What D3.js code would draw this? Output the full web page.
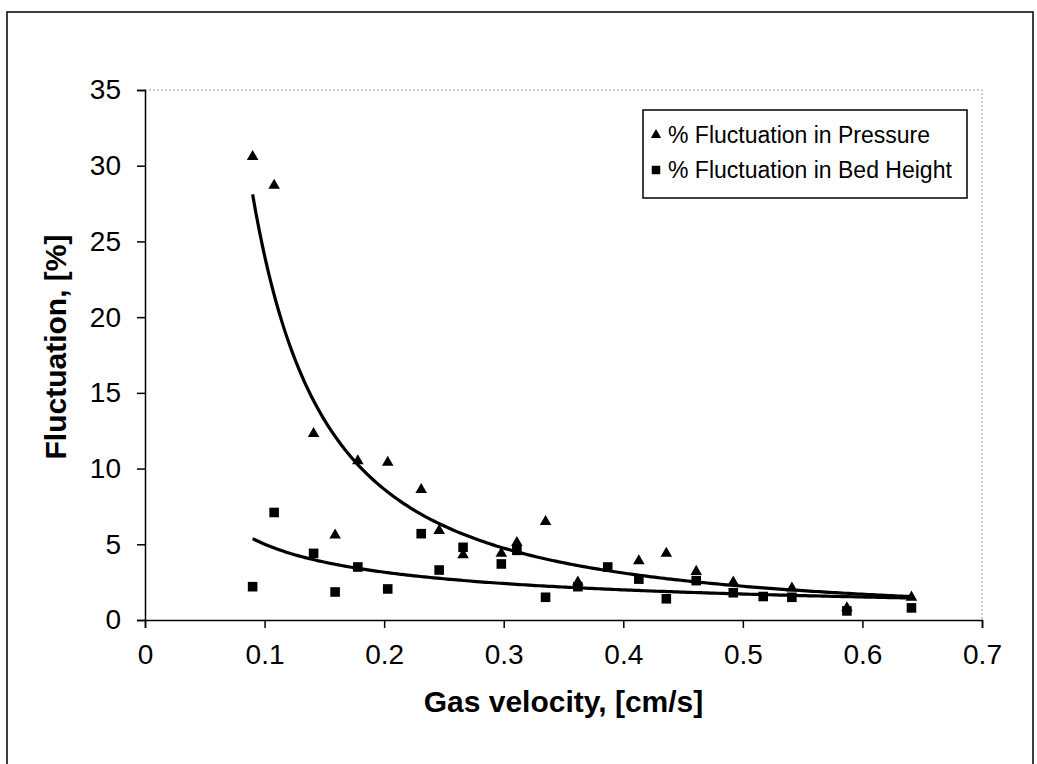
<!DOCTYPE html>
<html><head><meta charset="utf-8">
<script src="https://cdn.jsdelivr.net/npm/d3@7"></script>
<style>
body{margin:0;background:#fff;}
text{font-family:"Liberation Sans",Arial,sans-serif;fill:#000;}
</style></head>
<body>
<svg id="c" width="1037" height="764"></svg>
<script>
// ---- data ----
const pressureX = [0.090,0.108,0.141,0.159,0.178,0.203,0.231,0.246,0.266,0.298,0.311,0.335,0.362,0.413,0.436,0.461,0.492,0.541,0.587,0.641];
const pressureY = [30.6,28.7,12.3,5.6,10.5,10.4,8.6,5.9,4.3,4.4,5.1,6.5,2.5,3.9,4.4,3.2,2.5,2.1,0.8,1.5];
const bedX = [0.090,0.108,0.141,0.159,0.178,0.203,0.231,0.246,0.266,0.298,0.311,0.335,0.362,0.387,0.413,0.436,0.461,0.492,0.517,0.541,0.587,0.641];
const bedY = [2.2,7.1,4.4,1.85,3.5,2.05,5.7,3.3,4.8,3.7,4.6,1.5,2.2,3.5,2.7,1.4,2.6,1.8,1.55,1.5,0.6,0.8];
const xTicks = [0,0.1,0.2,0.3,0.4,0.5,0.6,0.7];
const yTicks = [0,5,10,15,20,25,30,35];
const legendLabels = ["% Fluctuation in Pressure","% Fluctuation in Bed Height"];
const xTitle = "Gas velocity, [cm/s]";
const yTitle = "Fluctuation, [%]";

const svg = d3.select("#c");
const L=145, R=982, T=90, B=620;
const x = d3.scaleLinear().domain([0,0.7]).range([L,R]);
const y = d3.scaleLinear().domain([0,35]).range([B,T]);

// outer frame (bottom edge runs off the picture)
svg.append("rect").attr("x",7).attr("y",12).attr("width",1026).attr("height",770)
  .attr("fill","none").attr("stroke","#000").attr("stroke-width",1.5);

// plot area border (top and right, dotted grey)
svg.append("path").attr("d",`M${L},${T}H${R}V${B}`).attr("fill","none")
  .attr("stroke","#999").attr("stroke-width",1).attr("stroke-dasharray","2,2");

// axes
const xa = svg.append("g").attr("transform",`translate(0,${B})`)
  .call(d3.axisBottom(x).tickValues(xTicks).tickSize(8).tickPadding(16).tickFormat(d3.format("")));
const ya = svg.append("g").attr("transform",`translate(${L},0)`)
  .call(d3.axisLeft(y).tickValues(yTicks).tickSize(8).tickPadding(16));
[xa,ya].forEach(g=>{
  g.select(".domain").attr("stroke","#000").attr("stroke-width",1.5);
  g.selectAll(".tick line").attr("stroke","#000").attr("stroke-width",1.5);
  g.selectAll(".tick text").attr("font-size",28).attr("font-family","Liberation Sans, Arial, sans-serif").attr("fill","#000");
});

// titles
svg.append("text").attr("x",(L+R)/2).attr("y",712).attr("text-anchor","middle")
  .attr("font-size",30).attr("font-weight","bold").text(xTitle);
svg.append("text").attr("transform",`translate(66,${(T+B)/2 - 8}) rotate(-90)`).attr("text-anchor","middle")
  .attr("font-size",30).attr("font-weight","bold").text(yTitle);

// power trendlines (least squares in log-log space, as spreadsheet power fit)
function powerFit(xs, ys){
  const lx = xs.map(Math.log), ly = ys.map(Math.log);
  const mx = d3.mean(lx), my = d3.mean(ly);
  const b = d3.sum(lx.map((v,i)=>(v-mx)*(ly[i]-my))) / d3.sum(lx.map(v=>(v-mx)*(v-mx)));
  const a = Math.exp(my - b*mx);
  return v => a*Math.pow(v,b);
}
const line = d3.line().x(d=>x(d[0])).y(d=>y(d[1])).curve(d3.curveLinear);
[[pressureX,pressureY],[bedX,bedY]].forEach(([xs,ys])=>{
  const f = powerFit(xs,ys);
  const [x0,x1] = d3.extent(xs);
  const pts = d3.range(0,201).map(i=>{const v=x0+(x1-x0)*i/200; return [v,f(v)];});
  svg.append("path").datum(pts).attr("d",line).attr("fill","none")
    .attr("stroke","#000").attr("stroke-width",3.2);
});

// markers
const tri = d3.symbol().type(d3.symbolTriangle).size(58);
const sq = d3.symbol().type(d3.symbolSquare).size(92);
svg.append("g").selectAll("path").data(bedX.map((v,i)=>[v,bedY[i]])).join("path")
  .attr("d",sq).attr("transform",d=>`translate(${x(d[0])},${y(d[1])})`).attr("fill","#000");
svg.append("g").selectAll("path").data(pressureX.map((v,i)=>[v,pressureY[i]])).join("path")
  .attr("d",tri).attr("transform",d=>`translate(${x(d[0])},${y(d[1])})`).attr("fill","#000");

// legend
const lg = svg.append("g");
lg.append("rect").attr("x",643).attr("y",110).attr("width",324).attr("height",88)
  .attr("fill","#fff").attr("stroke","#000").attr("stroke-width",1.5);
const syms=[d3.symbol().type(d3.symbolTriangle).size(46), d3.symbol().type(d3.symbolSquare).size(72)];
legendLabels.forEach((t,i)=>{
  const cy = 135 + i*35;
  lg.append("path").attr("d",syms[i]).attr("transform",`translate(656,${cy})`).attr("fill","#000");
  lg.append("text").attr("x",668).attr("y",cy+8).attr("font-size",23).text(t);
});
</script>
</body></html>
